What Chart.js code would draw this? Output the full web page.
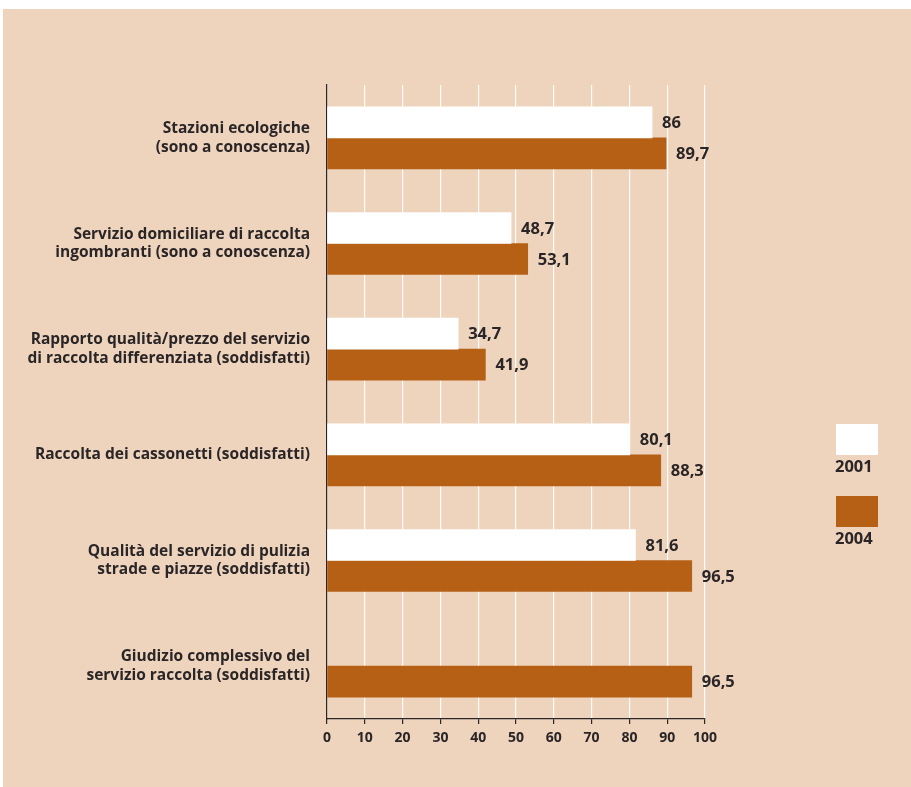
<!DOCTYPE html>
<html>
<head>
<meta charset="utf-8">
<title>Raccolta rifiuti 2001-2004</title>
<script src="https://cdn.jsdelivr.net/npm/chart.js@4"></script>
<style>
    html, body { margin: 0; padding: 0; background: #ffffff; }
    #wrap { width: 911px; height: 787px; position: relative; }
</style>
</head>
<body>
<div id="wrap"><canvas id="chart" width="911" height="787"></canvas></div>
<script>
const categories = [
    ['Stazioni ecologiche', '(sono a conoscenza)'],
    ['Servizio domiciliare di raccolta', 'ingombranti (sono a conoscenza)'],
    ['Rapporto qualità/prezzo del servizio', 'di raccolta differenziata (soddisfatti)'],
    ['Raccolta dei cassonetti (soddisfatti)'],
    ['Qualità del servizio di pulizia', 'strade e piazze (soddisfatti)'],
    ['Giudizio complessivo del', 'servizio raccolta (soddisfatti)']
];
const seriesLabels = ['2001', '2004'];
const values2001 = [86, 48.7, 34.7, 80.1, 81.6, null];
const values2004 = [89.7, 53.1, 41.9, 88.3, 96.5, 96.5];
const xTicks = [0, 10, 20, 30, 40, 50, 60, 70, 80, 90, 100];

const BEIGE = '#eed4bd';
const BROWN = '#b56014';
const TEXT = '#2a2526';
const FONT = '"Open Sans", "DejaVu Sans", sans-serif';

// beige panel behind everything
const panelBg = {
    id: 'panelBg',
    beforeDraw(chart) {
        const ctx = chart.ctx;
        ctx.save();
        ctx.fillStyle = '#ffffff';
        ctx.fillRect(0, 0, chart.width, chart.height);
        ctx.fillStyle = BEIGE;
        ctx.fillRect(3, 9, chart.width - 3, chart.height - 9);
        ctx.restore();
    }
};

// numbers at the end of each bar, with comma decimals
const valueLabels = {
    id: 'valueLabels',
    afterDatasetsDraw(chart) {
        const ctx = chart.ctx;
        ctx.save();
        ctx.font = 'bold 16.5px ' + FONT;
        ctx.fillStyle = TEXT;
        ctx.textAlign = 'left';
        ctx.textBaseline = 'middle';
        chart.data.datasets.forEach((ds, i) => {
            const meta = chart.getDatasetMeta(i);
            meta.data.forEach((bar, j) => {
                const v = ds.data[j];
                if (v === null || v === undefined) return;
                ctx.fillText(String(v).replace('.', ','), bar.x + 10, bar.y + 1);
            });
        });
        ctx.restore();
    }
};

// legend on the right: coloured box with the year under it
const sideLegend = {
    id: 'sideLegend',
    afterDraw(chart) {
        const ctx = chart.ctx;
        ctx.save();
        ctx.font = 'bold 16.5px ' + FONT;
        ctx.textAlign = 'left';
        ctx.textBaseline = 'middle';
        chart.data.datasets.forEach((ds, i) => {
            const y = 424 + i * 72;
            ctx.fillStyle = ds.backgroundColor;
            ctx.fillRect(836, y, 42, 31);
            ctx.fillStyle = TEXT;
            ctx.fillText(ds.label, 835, y + 43);
        });
        ctx.restore();
    }
};

const ctx = document.getElementById('chart').getContext('2d');
const chart = new Chart(ctx, {
    type: 'bar',
    data: {
        labels: categories,
        datasets: [
            {
                label: seriesLabels[0],
                data: values2001,
                backgroundColor: '#ffffff',
                barThickness: 31
            },
            {
                label: seriesLabels[1],
                data: values2004,
                backgroundColor: BROWN,
                barThickness: 31
            }
        ]
    },
    options: {
        indexAxis: 'y',
        responsive: false,
        animation: false,
        devicePixelRatio: 1,
        layout: { padding: { left: 0, top: 85, right: 206, bottom: 0 } },
        plugins: {
            legend: { display: false },
            tooltip: { enabled: false }
        },
        scales: {
            y: {
                afterFit(scale) { scale.width = 327; },
                grid: { display: true, color: 'rgba(0,0,0,0)', drawTicks: false },
                border: { display: true, color: TEXT, width: 1.2 },
                ticks: {
                    padding: 17,
                    color: TEXT,
                    font: { family: FONT, size: 15.5, weight: 'bold', lineHeight: 1.2 }
                }
            },
            x: {
                min: 0,
                max: 100,
                afterFit(scale) { scale.height = 68; },
                afterBuildTicks(scale) { scale.ticks = xTicks.map(v => ({ value: v })); },
                grid: { color: 'rgba(255,255,255,0.9)', lineWidth: 1.2, tickColor: TEXT, tickLength: 5 },
                border: { display: true, color: TEXT, width: 1.2 },
                ticks: {
                    padding: 6,
                    color: TEXT,
                    font: { family: FONT, size: 14, weight: 'bold' }
                }
            }
        }
    },
    plugins: [panelBg, valueLabels, sideLegend]
});
</script>
</body>
</html>
